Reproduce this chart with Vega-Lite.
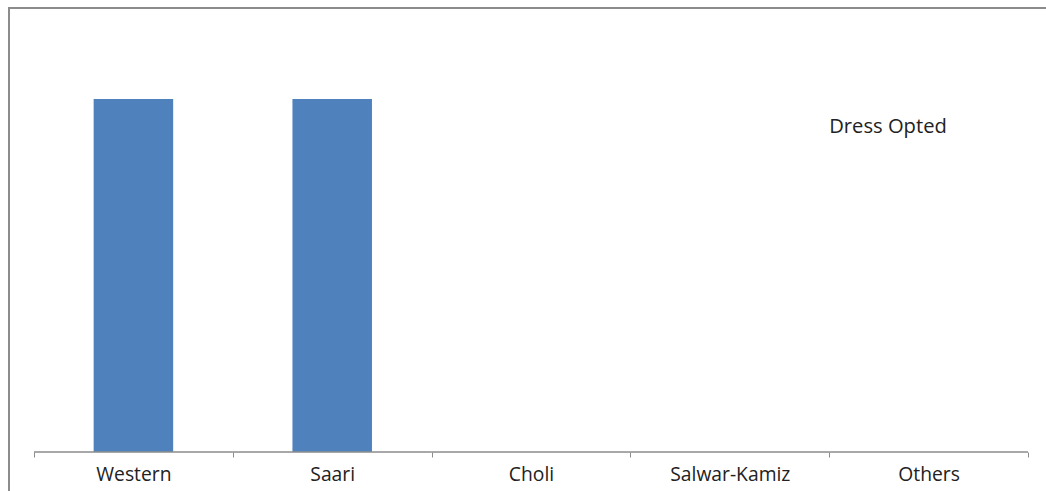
{
  "$schema": "https://vega.github.io/schema/vega-lite/v6.json",
  "width": 1040,
  "height": 487,
  "autosize": "none",
  "padding": {"left": 9, "top": 8, "right": 0, "bottom": 0},
  "background": "white",
  "config": {
    "view": {"stroke": "#8c8c8c", "strokeWidth": 2},
    "font": "Open Sans"
  },
  "data": {
    "values": [
      {"dress": "Western", "count": 50, "series": "Dress Opted"},
      {"dress": "Saari", "count": 50, "series": "Dress Opted"},
      {"dress": "Choli", "count": 0, "series": "Dress Opted"},
      {"dress": "Salwar-Kamiz", "count": 0, "series": "Dress Opted"},
      {"dress": "Others", "count": 0, "series": "Dress Opted"}
    ]
  },
  "encoding": {
    "x": {
      "field": "dress",
      "type": "nominal",
      "sort": null,
      "scale": {"paddingInner": 0, "paddingOuter": 0.11569, "align": 0.5435},
      "axis": {
        "title": null,
        "domain": false,
        "grid": false,
        "tickBand": "extent",
        "tickSize": 5,
        "tickColor": "#8c8c8c",
        "labelFont": "Open Sans",
        "labelFontSize": 19.3,
        "labelColor": "#222222",
        "labelPadding": 8,
        "labelAngle": 0,
        "offset": -43
      }
    }
  },
  "layer": [
    {
      "mark": {"type": "bar", "width": {"band": 0.4}},
      "encoding": {
        "y": {
          "field": "count",
          "type": "quantitative",
          "scale": {"domain": [-6.09, 62.89], "nice": false, "zero": false},
          "axis": null
        },
        "y2": {"datum": 0},
        "color": {
          "field": "series",
          "type": "nominal",
          "scale": {"range": ["#4F81BD"]},
          "legend": {
            "title": null,
            "orient": "none",
            "legendX": 800,
            "legendY": 109,
            "padding": 0,
            "symbolSize": 0,
            "symbolOpacity": 0,
            "symbolStrokeWidth": 0,
            "labelOffset": 0,
            "labelFont": "Open Sans",
            "labelFontSize": 20.2,
            "labelColor": "#222222"
          }
        }
      }
    },
    {
      "mark": {"type": "rect", "fill": null, "stroke": "#8c8c8c", "strokeWidth": 1},
      "encoding": {
        "y": {"datum": 0, "type": "quantitative"},
        "y2": {"datum": 0}
      }
    }
  ]
}
